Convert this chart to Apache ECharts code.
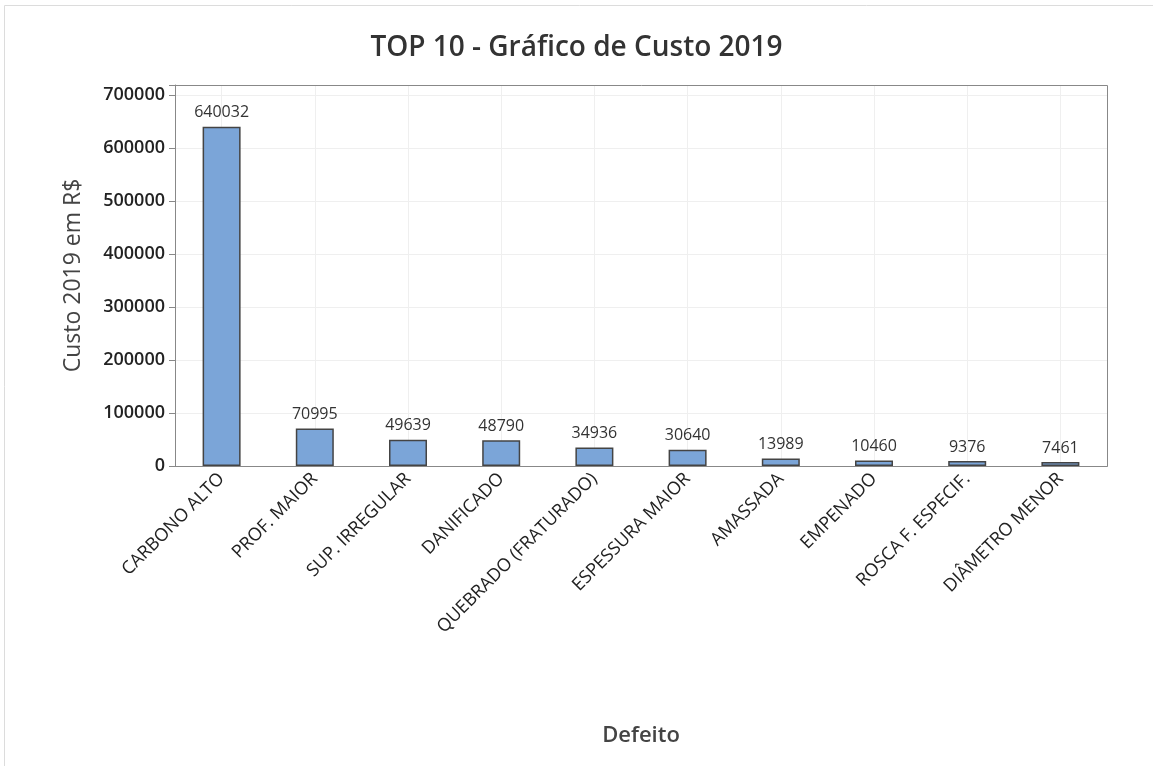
<!DOCTYPE html>
<html>
<head>
<meta charset="utf-8">
<script src="https://cdn.jsdelivr.net/npm/echarts@6/dist/echarts.min.js"></script>
<style>
  html, body { margin: 0; padding: 0; background: #fff; }
  #chart { width: 1153px; height: 766px; }
</style>
</head>
<body>
<div id="chart"></div>
<script>
// dados do gráfico
const defeitos = ['CARBONO ALTO', 'PROF. MAIOR', 'SUP. IRREGULAR', 'DANIFICADO', 'QUEBRADO (FRATURADO)',
  'ESPESSURA MAIOR', 'AMASSADA', 'EMPENADO', 'ROSCA F. ESPECIF.', 'DIÂMETRO MENOR'];
const custo2019 = [640032, 70995, 49639, 48790, 34936, 30640, 13989, 10460, 9376, 7461];
const yMax = 719000;
const yStep = 100000;

const chart = echarts.init(document.getElementById('chart'));
chart.setOption({
  animation: false,
  textStyle: { fontFamily: 'Open Sans' },
  // moldura externa e borda da área do gráfico
  graphic: [{
    type: 'rect',
    shape: { x: 4.5, y: 5.5, width: 1200, height: 800 },
    style: { fill: 'none', stroke: '#dcdcdc', lineWidth: 1 },
    silent: true
  }, {
    type: 'rect',
    shape: { x: 175.5, y: 85.5, width: 932, height: 381 },
    style: { fill: 'none', stroke: '#888', lineWidth: 1 },
    silent: true,
    z: 10
  }],
  title: {
    text: 'TOP 10 - Gráfico de Custo 2019',
    left: 'center',
    top: 29,
    textStyle: { fontSize: 28, fontWeight: 600, color: '#333', fontFamily: 'Open Sans' }
  },
  grid: { left: 175, right: 46, top: 85, bottom: 300, containLabel: false },
  xAxis: {
    type: 'category',
    data: defeitos,
    name: 'Defeito',
    nameLocation: 'middle',
    nameGap: 259,
    nameTextStyle: { fontSize: 22, fontWeight: 600, color: '#444' },
    axisLine: { lineStyle: { color: '#888', width: 1 } },
    axisTick: { alignWithLabel: true, length: 6, lineStyle: { color: '#888' } },
    axisLabel: { rotate: 45, fontSize: 18, color: '#222', margin: 10, interval: 0 },
    splitLine: { show: true, alignWithLabel: true, lineStyle: { color: '#efefef' } }
  },
  yAxis: {
    type: 'value',
    min: 0,
    max: yMax,
    interval: yStep,
    name: 'Custo 2019 em R$',
    nameLocation: 'middle',
    nameGap: 90,
    nameTextStyle: { fontSize: 23, fontWeight: 500, color: '#444' },
    axisLine: { show: true, lineStyle: { color: '#888' } },
    axisTick: { show: true, length: 6, lineStyle: { color: '#888' } },
    axisLabel: {
      fontSize: 18, color: '#222', fontWeight: 600, margin: 10,
      formatter: v => (v % yStep === 0 ? String(v) : '')
    },
    splitLine: { lineStyle: { color: '#efefef' } }
  },
  series: [{
    type: 'bar',
    data: custo2019,
    barWidth: 38,
    itemStyle: { color: '#7ba5d8', borderColor: '#444', borderWidth: 1.5 },
    label: { show: true, position: 'top', distance: 6, fontSize: 16, color: '#333' }
  }]
});
</script>
</body>
</html>
